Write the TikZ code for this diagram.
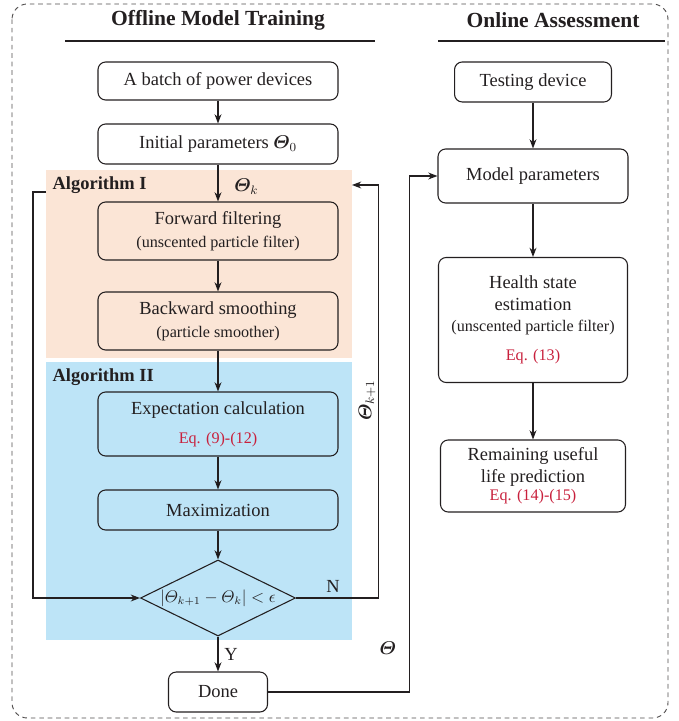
\documentclass[tikz,border=0pt]{standalone}
\usepackage{amsmath}
\usepackage{bm}
\usepackage{fontspec}
\setmainfont{Liberation Serif}
\usepackage{tikz}
\usetikzlibrary{positioning,shapes.geometric,arrows.meta}

\definecolor{algone}{HTML}{FBE5D6}
\definecolor{algtwo}{HTML}{BDE4F7}
\definecolor{eqred}{RGB}{200,32,60}
\definecolor{ink}{HTML}{231F20}

\newcommand{\subnote}[1]{{\fontsize{10.5}{12}\selectfont #1}}
\newcommand{\eqnote}[1]{{\fontsize{10.5}{12}\selectfont\color{eqred}#1}}

\tikzset{
  block/.style={draw=ink,rounded corners=5pt,align=center,text=ink,
    minimum width=156pt,minimum height=26pt,inner sep=2pt,
    font=\fontsize{12}{14}\selectfont},
  decision/.style={diamond,draw=ink,aspect=2,inner sep=0pt,text=ink,
    minimum width=100.75pt,minimum height=49.4pt,font=\fontsize{10.5}{12}\selectfont},
  heading/.style={text=ink,font=\fontsize{14}{16}\selectfont\bfseries},
  algname/.style={text=ink,font=\fontsize{12}{14}\selectfont\bfseries,anchor=west},
  lbl/.style={text=ink,font=\fontsize{12}{14}\selectfont}
}

\begin{document}
\begin{tikzpicture}[x=0.65pt,y=-0.65pt,on grid,line width=0.7pt,
    >={Stealth[length=6pt,width=4.5pt]}]
  \useasboundingbox (0,0) rectangle (678,721);
  % background panels
  \fill[algone] (46,170) rectangle (352,358);
  \fill[algtwo] (46,362) rectangle (352,640);
  \draw[ink!80,dash pattern=on 3pt off 2.5pt,rounded corners=10pt,line width=0.6pt]
    (12,4) rectangle (668,718);

  \node[heading] (offline) at (218,20) {Offline Model Training};
  \node[heading] (online)  at (553,20) {Online Assessment};
  \draw[ink,line width=1.1pt] (65,41) -- (375,41);
  \draw[ink,line width=1.1pt] (438,41) -- (665,41);
  \node[algname] (alg1) at (47,185) {Algorithm I};
  \node[algname] (alg2) at (47,377) {Algorithm II};

  % offline column
  \node[block,minimum height=24.7pt] (batch) at (218,81) {A batch of power devices};
  \node[block,below=40.95pt of batch] (init) {Initial parameters $\bm{\varTheta}_0$};
  \node[block,minimum height=37.7pt,below=56.55pt of init] (fwd)
    {Forward filtering\\[1pt]\subnote{(unscented particle filter)}};
  \node[block,minimum height=37.7pt,below=58.5pt of fwd] (bwd)
    {Backward smoothing\\[1pt]\subnote{(particle smoother)}};
  \node[block,minimum height=41.6pt,below=66.95pt of bwd] (expect)
    {Expectation calculation\\[5pt]\eqnote{Eq. (9)-(12)}};
  \node[block,below=55.9pt of expect] (maxim) {Maximization};
  \node[decision,below=57.2pt of maxim] (cond)
    {$\left|\varTheta_{k+1}-\varTheta_k\right|<\epsilon$};
  \node[block,minimum width=64.35pt,below=61.1pt of cond] (done) {Done};

  % online column
  \node[block,minimum width=102pt] (testing) at (533,82) {Testing device};
  \node[block,minimum width=123.5pt,minimum height=35.1pt,below=61.1pt of testing] (model)
    {Model parameters};
  \node[block,minimum width=122.85pt,minimum height=81.25pt,below=93.6pt of model] (health)
    {Health state\\estimation\\\subnote{(unscented particle filter)}\\[5pt]\eqnote{Eq. (13)}};
  \node[block,minimum width=120.25pt,minimum height=46.8pt,below=101.4pt of health] (rul)
    {Remaining useful\\life prediction\\[-2pt]\eqnote{Eq. (14)-(15)}};

  \coordinate (loopin)  at (46,192);
  \coordinate (loopout) at (352,185);

  \path[->,draw=ink]
    (batch)  edge (init)
    (init)   edge node[lbl,right=7pt,pos=0.6] (thetak) {$\bm{\varTheta}_k$} (fwd)
    (fwd)    edge (bwd)
    (bwd)    edge (expect)
    (expect) edge (maxim)
    (maxim)  edge (cond)
    (cond)   edge node[lbl,right=0.5pt] (yes) {Y} (done)
    % online edges
    (testing) edge (model)
    (model)   edge (health)
    (health)  edge (rul);

  % iteration loops
  \draw[->,ink] (loopin) -- ++(-13,0) |- (cond.west);
  \draw[->,ink] (cond.east) -- node[lbl,above,pos=0.45] (no) {N}
    ++(82,0) |- (loopout);
  \node[lbl,rotate=90] (thetanext) at (367,400) {$\bm{\varTheta}_{k+1}$};
  % hand over to online
  \draw[->,ink] (done.east) -- ++(141,0) |- (model.west);
  \node[lbl] (theta) at (388,648) {$\bm{\varTheta}$};
\end{tikzpicture}
\end{document}
